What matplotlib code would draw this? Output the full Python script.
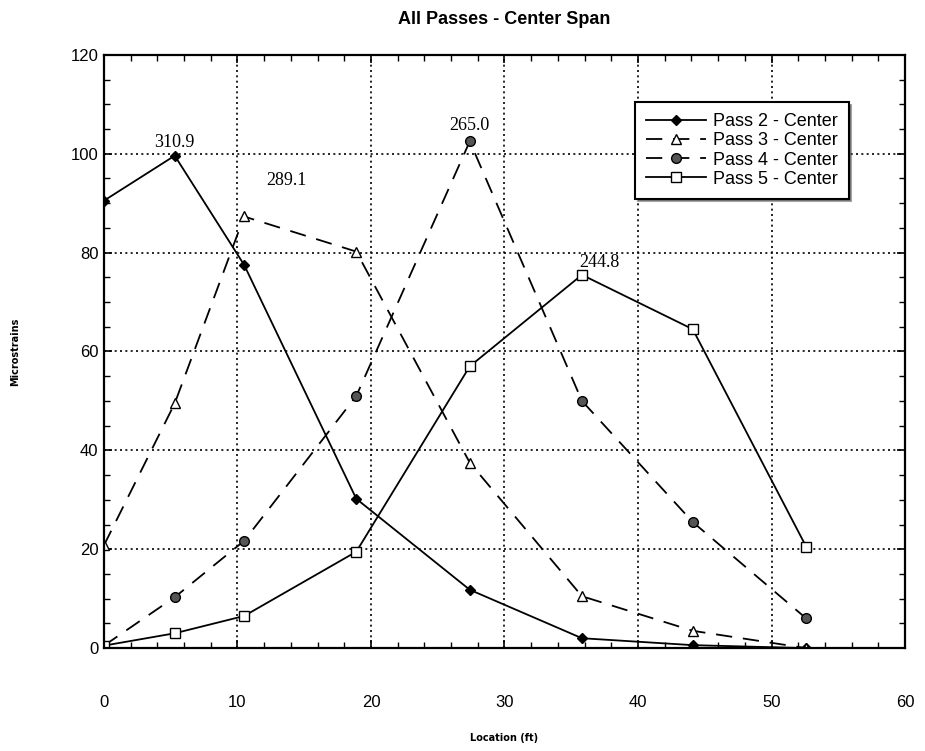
import matplotlib.pyplot as plt
from matplotlib.ticker import MultipleLocator

# gauge locations along the span (ft)
location = [0, 5.3, 10.5, 18.9, 27.4, 35.8, 44.1, 52.6]

pass2 = [90.5, 99.6, 77.5, 30.2, 11.8, 2.0, 0.6, 0.0]
pass3 = [20.8, 49.5, 87.3, 80.2, 37.5, 10.5, 3.5, 0.0]
pass4 = [0.5, 10.3, 21.7, 51.0, 102.5, 50.0, 25.5, 6.0]
pass5 = [0.5, 3.0, 6.5, 19.5, 57.0, 75.5, 64.5, 20.5]

series_names = ['Pass 2 - Center', 'Pass 3 - Center', 'Pass 4 - Center', 'Pass 5 - Center']

# peak readings written over each curve
peak_labels = ['310.9', '289.1', '265.0', '244.8']

fig = plt.figure(figsize=(9.25, 7.51), dpi=100)
ax = fig.add_axes([0.1124, 0.137, 0.866, 0.79])

ax.plot(location, pass2, '-', color='black', lw=1.3, marker='D', ms=5,
        mfc='black', mec='black', label=series_names[0])
ax.plot(location, pass3, color='black', lw=1.3, dashes=(9, 6), marker='^', ms=7,
        mfc='white', mec='black', label=series_names[1])
ax.plot(location, pass4, color='black', lw=1.3, dashes=(9, 6), marker='o', ms=7,
        mfc='#555555', mec='black', label=series_names[2])
ax.plot(location, pass5, '-', color='black', lw=1.3, marker='s', ms=7,
        mfc='white', mec='black', label=series_names[3])

# label each curve at its maximum
for vals, txt, dx, dy in zip([pass2, pass3, pass4, pass5], peak_labels,
                             [0, 3.2, 0, 1.3], [1.0, 5.5, 1.5, 0.8]):
    i = vals.index(max(vals))
    ax.text(location[i] + dx, vals[i] + dy, txt, ha='center', va='bottom',
            fontsize=13, family='Liberation Serif')

ax.set_xlim(0, 60)
ax.set_ylim(0, 120)
ax.xaxis.set_major_locator(MultipleLocator(10))
ax.xaxis.set_minor_locator(MultipleLocator(2))
ax.yaxis.set_major_locator(MultipleLocator(20))
ax.yaxis.set_minor_locator(MultipleLocator(5))
ax.tick_params(which='both', direction='in', top=True, right=True, color='black')
ax.tick_params(which='major', length=6, width=1.2)
ax.tick_params(which='minor', length=4, width=1)
ax.tick_params(axis='x', which='major', pad=34, labelsize=12)
ax.tick_params(axis='y', which='major', pad=4, labelsize=12)
for lab in ax.get_xticklabels() + ax.get_yticklabels():
    lab.set_family('Liberation Sans')

ax.grid(True, which='major', color='black', linestyle=(0, (1.2, 2)), lw=1.2)
for s in ax.spines.values():
    s.set_linewidth(1.6)

ax.set_xlabel('Location (ft)', fontsize=7, fontweight='bold', labelpad=16)
ax.set_ylabel('Microstrains', fontsize=7, fontweight='bold', labelpad=36)
ax.set_title('All Passes - Center Span', fontsize=13, fontweight='bold',
             family='Liberation Sans', pad=22)

leg = ax.legend(loc='upper left', bbox_to_anchor=(0.652, 0.935), frameon=True,
                fancybox=False, shadow=True, edgecolor='black', framealpha=1,
                handlelength=3.3, handletextpad=0.4, labelspacing=0.12,
                borderpad=0.6, prop={'family': 'Liberation Sans', 'size': 13})
leg.get_frame().set_linewidth(1.5)

fig.savefig('out.png', dpi=100)
